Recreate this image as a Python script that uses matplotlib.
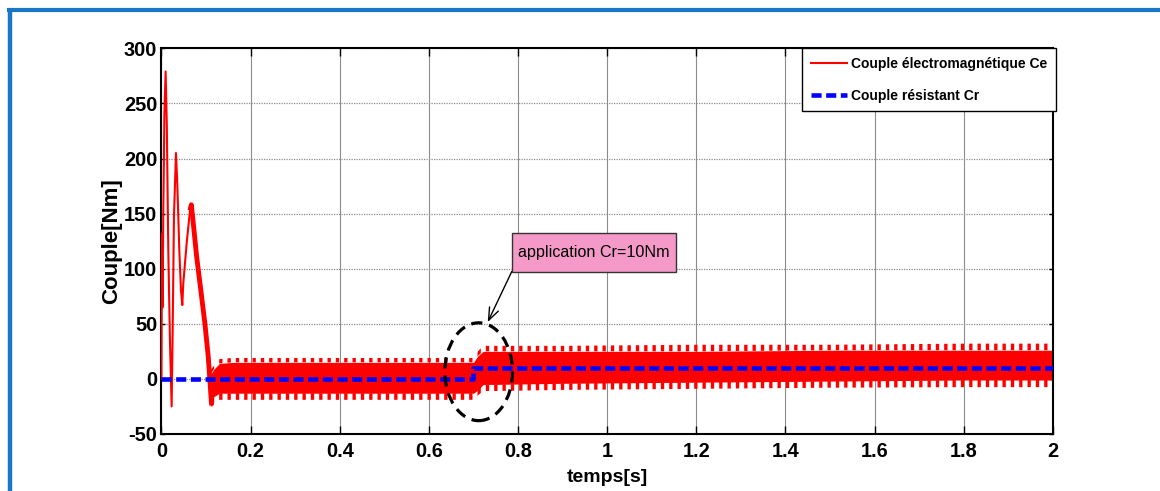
import matplotlib
matplotlib.use('Agg')
import matplotlib.pyplot as plt
from matplotlib.patches import Ellipse, Rectangle
from matplotlib.lines import Line2D

plt.rcParams['font.family'] = ['Liberation Sans', 'DejaVu Sans']
plt.rcParams['hatch.linewidth'] = 2.4

# ---- data ----
# start-up transient of electromagnetic torque Ce
t_tr = [0.0, 0.001, 0.0025, 0.0041, 0.0065, 0.0093, 0.012, 0.0153, 0.019, 0.0228,
        0.025, 0.028, 0.0325, 0.0355, 0.040, 0.0437, 0.0467, 0.049, 0.0565, 0.064,
        0.067, 0.0714, 0.0789, 0.0863, 0.0975, 0.105, 0.1125]
ce_tr = [0, 132, 65, 150, 240, 279, 230, 117, 35, -25,
         40, 147, 205, 177, 117, 81, 67, 87, 123, 153,
         158, 141, 111, 87, 50, 20, -24]

# steady-state ripple envelope of Ce
band_t = [0.110, 0.118, 0.130, 0.160, 0.25, 0.45, 0.65, 0.700, 0.710, 0.722,
          0.75, 0.90, 1.20, 1.50, 1.80, 2.00]
up_tip = [8, 12, 18, 19, 19, 19, 19, 19, 25, 30, 30, 30, 31, 31, 32, 32]
up_body = [4, 9, 14, 15, 15, 15, 15, 15, 21, 25, 25, 25, 25, 26, 26, 26]
lo_body = [-19, -16, -13, -13, -13, -13, -13, -13, -10, -5, -5, -4, -3, -2, -1, -1]
lo_tip = [-24, -22, -19, -19, -19, -19, -19, -19, -15, -11, -11, -10, -9, -8, -7.5, -7.5]

# load torque Cr
cr_t = [0.0, 0.7, 0.7, 2.0]
cr_v = [0, 0, 10, 10]

xticks = [0, 0.2, 0.4, 0.6, 0.8, 1.0, 1.2, 1.4, 1.6, 1.8, 2.0]
xtick_labels = ['0', '0.2', '0.4', '0.6', '0.8', '1', '1.2', '1.4', '1.6', '1.8', '2']
yticks = [-50, 0, 50, 100, 150, 200, 250, 300]
ytick_labels = ['-50', '0', '50', '100', '150', '200', '250', '300']

legend_labels = ['Couple électromagnétique Ce', 'Couple résistant Cr']
annot_text = 'application Cr=10Nm'

RED = '#ff0000'
BLUE = '#0000ff'

fig = plt.figure(figsize=(11.6, 4.91), dpi=100)
fig.patch.set_facecolor('white')
ax = fig.add_axes([0.1392, 0.1161, 0.7685, 0.7855])

# grid
ax.set_axisbelow(True)
ax.grid(axis='x', color='#8c8c8c', linestyle='-', linewidth=0.8)
ax.grid(axis='y', color='#8c8c8c', linestyle=(0, (1, 1)), linewidth=0.9)

# ripple band
ax.fill_between(band_t, lo_body, up_body, color=RED, linewidth=0, zorder=2)
ax.fill_between(band_t, up_body, up_tip, facecolor='none', edgecolor=RED,
                hatch='||', linewidth=0, zorder=2)
ax.fill_between(band_t, lo_tip, lo_body, facecolor='none', edgecolor=RED,
                hatch='||', linewidth=0, zorder=2)

# transient
ax.plot(t_tr, ce_tr, color=RED, linewidth=1.5, zorder=3)
ax.plot(t_tr[19:], ce_tr[19:], color=RED, linewidth=3.5, zorder=3,
        solid_capstyle='butt')

# load torque
ax.plot(cr_t, cr_v, color=BLUE, linewidth=3.3, dashes=(2.2, 1.0), zorder=4)

# ellipse marker
ell = Ellipse((0.7117, 6.5), 0.1518, 88.8, fill=False, edgecolor='black',
              linewidth=2.3, linestyle=(0, (3.5, 2.2)), zorder=6)
ax.add_patch(ell)

# annotation
ax.annotate('', xy=(0.732, 51.6), xytext=(0.786, 97.5),
            arrowprops=dict(arrowstyle='->,head_length=0.9,head_width=0.35',
                            color='black', linewidth=1.0,
                            shrinkA=0, shrinkB=0), zorder=7)
ax.add_patch(Rectangle((0.786, 96.9), 0.3676, 35.4, facecolor='#f59ac8',
                       edgecolor='#333333', linewidth=1.0, zorder=8))
ax.text(0.9698, 114.6, annot_text, ha='center', va='center', fontsize=11.6,
        zorder=9)

ax.set_xlim(0, 2)
ax.set_ylim(-50, 300)
ax.set_xticks(xticks)
ax.set_xticklabels(xtick_labels)
ax.set_yticks(yticks)
ax.set_yticklabels(ytick_labels)

ax.tick_params(axis='both', direction='in', top=True, right=True,
               labelsize=14.4, width=1.0, color='black')
ax.tick_params(axis='x', length=6, pad=6)
ax.tick_params(axis='y', length=3, pad=3)
for lab in ax.get_xticklabels() + ax.get_yticklabels():
    lab.set_fontweight('bold')

for sp in ax.spines.values():
    sp.set_linewidth(1.5)
    sp.set_color('black')

ax.set_xlabel('temps[s]', fontsize=14, fontweight='bold')
ax.set_ylabel('Couple[Nm]', fontsize=16, fontweight='bold')
ax.xaxis.set_label_coords(0.5, -0.114)
ax.xaxis.label.set_va('center')
ax.yaxis.set_label_coords(-0.0555, 0.5)
ax.yaxis.label.set_va('center')

# legend
h1 = Line2D([], [], color=RED, linewidth=1.5)
h2 = Line2D([], [], color=BLUE, linewidth=3.3, dashes=(2.2, 1.0))
leg = ax.legend([h1, h2], legend_labels, loc='upper right',
                bbox_to_anchor=(1.003, 1.0), borderaxespad=0.0,
                prop={'weight': 'bold', 'size': 10}, frameon=True,
                fancybox=False, edgecolor='black', framealpha=1.0,
                handlelength=2.6, handletextpad=0.3, labelspacing=1.3,
                borderpad=0.6)
leg.get_frame().set_linewidth(1.0)
leg.set_zorder(10)

# outer blue frame (top and left edges visible)
W, H = 1160.0, 491.0
fig.add_artist(Line2D([7.3 / W, 1.0], [1 - 10.3 / H, 1 - 10.3 / H],
                      transform=fig.transFigure, color='#1a76c6', linewidth=3.0,
                      solid_capstyle='butt'))
fig.add_artist(Line2D([9.5 / W, 9.5 / W], [1 - 8.3 / H, 0.0],
                      transform=fig.transFigure, color='#1a76c6', linewidth=3.2,
                      solid_capstyle='butt'))

fig.savefig('out.png', dpi=100)
